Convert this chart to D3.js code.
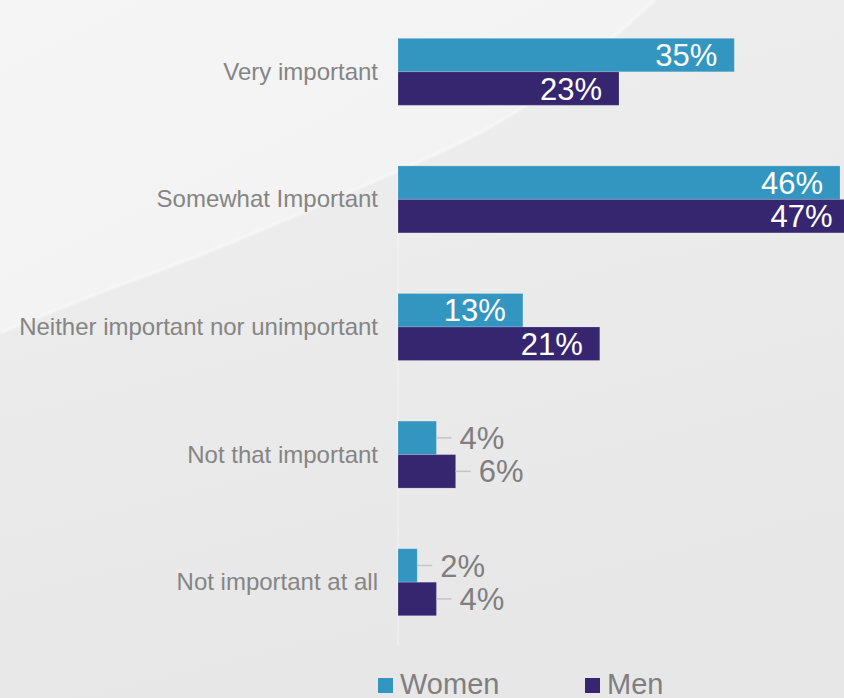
<!DOCTYPE html>
<html>
<head>
<meta charset="utf-8">
<script src="https://cdn.jsdelivr.net/npm/d3@7"></script>
<style>
  html, body { margin: 0; padding: 0; background: #ebebeb; }
  svg { display: block; font-family: "Liberation Sans", Arial, sans-serif; }
</style>
</head>
<body>
<svg id="chart" width="844" height="698"></svg>
<script>
// Survey answers, share of respondents (%)
const categories = [
  "Very important",
  "Somewhat Important",
  "Neither important nor unimportant",
  "Not that important",
  "Not important at all"
];
const seriesNames = ["Women", "Men"];
const women = [35, 46, 13, 4, 2];
const men = [23, 47, 21, 6, 4];
const colors = { Women: "#3396c0", Men: "#36266f" };

const W = 844, H = 698;
const svg = d3.select("#chart");

// ---- backdrop: soft grey with a lighter swept panel in the upper left ----
const defs = svg.append("defs");
const baseGrad = defs.append("linearGradient").attr("id", "baseGrad")
  .attr("x1", 0).attr("y1", 0).attr("x2", 0.3).attr("y2", 1);
baseGrad.append("stop").attr("offset", "0%").attr("stop-color", "#efefef");
baseGrad.append("stop").attr("offset", "100%").attr("stop-color", "#e7e7e7");
const panelGrad = defs.append("linearGradient").attr("id", "panelGrad")
  .attr("x1", 0).attr("y1", 0).attr("x2", 1).attr("y2", 1);
panelGrad.append("stop").attr("offset", "0%").attr("stop-color", "#f5f5f5");
panelGrad.append("stop").attr("offset", "100%").attr("stop-color", "#f1f1f1");
defs.append("filter").attr("id", "soft")
  .append("feGaussianBlur").attr("stdDeviation", 1.2);

svg.append("rect").attr("width", W).attr("height", H).attr("fill", "url(#baseGrad)");

const sweep = [[0, 333], [100, 292], [200, 256], [300, 214], [400, 170], [480, 135], [560, 85], [655, 0]];
const sweepLine = d3.line().curve(d3.curveBasis);
svg.append("path")
  .attr("d", sweepLine(sweep) + "L0,0Z")
  .attr("fill", "url(#panelGrad)");
svg.append("path")
  .attr("d", sweepLine(sweep))
  .attr("fill", "none")
  .attr("stroke", "#f9f9f9")
  .attr("stroke-width", 2)
  .attr("filter", "url(#soft)");

// ---- scales ----
const x = d3.scaleLinear().domain([0, 46]).range([398, 840]);
const y0 = d3.scaleBand().domain(categories).range([8, 646])
  .paddingInner(0.475).paddingOuter(0.2375);
const y1 = d3.scaleBand().domain(seriesNames).range([0, y0.bandwidth()]);

const rows = categories.map((c, i) => ({
  category: c,
  values: [
    { key: "Women", value: women[i] },
    { key: "Men", value: men[i] }
  ]
}));

// ---- vertical baseline ----
svg.append("line")
  .attr("x1", x(0)).attr("x2", x(0))
  .attr("y1", 16).attr("y2", 646)
  .attr("stroke", "#f4f4f4").attr("stroke-width", 1);

// ---- category axis ----
const yAxis = svg.append("g")
  .attr("transform", `translate(${x(0)},0)`)
  .call(d3.axisLeft(y0).tickSize(0).tickPadding(20));
yAxis.select(".domain").remove();
yAxis.selectAll("text")
  .attr("fill", "#858585")
  .attr("font-size", 24)
  .attr("font-family", "Liberation Sans, Arial, sans-serif")
  .attr("dy", "0.33em");

// ---- bars ----
const groups = svg.append("g").selectAll("g")
  .data(rows).join("g")
  .attr("transform", d => `translate(0,${y0(d.category)})`);

groups.selectAll("rect")
  .data(d => d.values).join("rect")
  .attr("x", x(0))
  .attr("y", d => y1(d.key))
  .attr("width", d => x(d.value) - x(0))
  .attr("height", y1.bandwidth())
  .attr("fill", d => colors[d.key])
  .attr("stroke", "rgba(255,255,255,0.18)")
  .attr("stroke-width", 1);

// ---- value labels: inside for long bars, outside with a leader for short ones ----
const inside = d => d.value >= 10;
const cy = d => y1(d.key) + y1.bandwidth() / 2;

groups.selectAll("line.leader")
  .data(d => d.values.filter(v => !inside(v))).join("line")
  .attr("class", "leader")
  .attr("x1", d => x(d.value)).attr("x2", d => x(d.value) + 15)
  .attr("y1", cy).attr("y2", cy)
  .attr("stroke", "#c4c4c4").attr("stroke-width", 1.5);

groups.selectAll("text.val")
  .data(d => d.values).join("text")
  .attr("class", "val")
  .attr("x", d => inside(d) ? x(d.value) - 17 : x(d.value) + 23)
  .attr("y", cy)
  .attr("dy", "0.36em")
  .attr("text-anchor", d => inside(d) ? "end" : "start")
  .attr("fill", d => inside(d) ? "#ffffff" : "#7f7f7f")
  .attr("font-size", 31)
  .text(d => d.value + "%");

// ---- legend ----
const legendX = { Women: 378, Men: 585 };
const legend = svg.append("g").selectAll("g")
  .data(seriesNames).join("g")
  .attr("transform", d => `translate(${legendX[d]},678)`);
legend.append("rect")
  .attr("width", 15).attr("height", 15)
  .attr("fill", d => colors[d]);
legend.append("text")
  .attr("x", 22).attr("y", 16)
  .attr("fill", "#7f7f7f")
  .attr("font-size", 29)
  .text(d => d);
</script>
</body>
</html>
